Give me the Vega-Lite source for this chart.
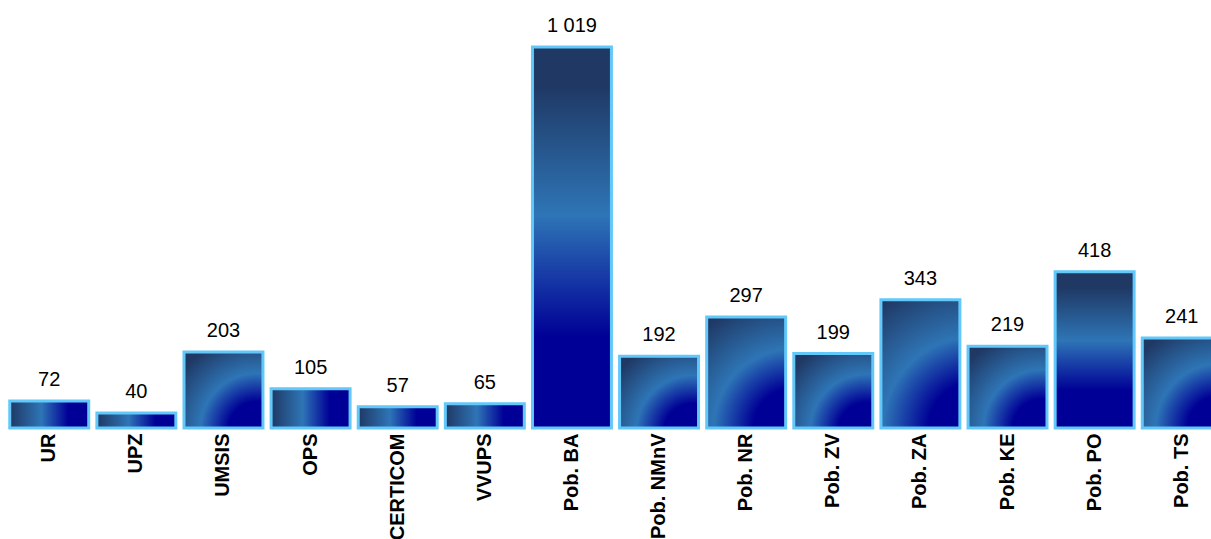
{
  "$schema": "https://vega.github.io/schema/vega-lite/v6.json",
  "width": 1231,
  "height": 428,
  "autosize": "none",
  "padding": {"left": 0, "top": 0, "right": 0, "bottom": 111},
  "background": "white",
  "config": {
    "view": {"stroke": null},
    "font": "Liberation Sans",
    "locale": {
      "number": {"decimal": ",", "thousands": " ", "grouping": [3], "currency": ["", " €"]}
    }
  },
  "data": {
    "values": [
      {"unit": "UR", "count": 72},
      {"unit": "UPZ", "count": 40},
      {"unit": "UMSIS", "count": 203},
      {"unit": "OPS", "count": 105},
      {"unit": "CERTICOM", "count": 57},
      {"unit": "VVUPS", "count": 65},
      {"unit": "Pob. BA", "count": 1019},
      {"unit": "Pob. NMnV", "count": 192},
      {"unit": "Pob. NR", "count": 297},
      {"unit": "Pob. ZV", "count": 199},
      {"unit": "Pob. ZA", "count": 343},
      {"unit": "Pob. KE", "count": 219},
      {"unit": "Pob. PO", "count": 418},
      {"unit": "Pob. TS", "count": 241}
    ]
  },
  "encoding": {
    "x": {
      "field": "unit",
      "type": "nominal",
      "sort": null,
      "scale": {"paddingInner": 0.0935, "paddingOuter": 0.112},
      "axis": {
        "title": null,
        "labelAngle": -90,
        "labelFont": "Liberation Sans",
        "labelFontWeight": "bold",
        "labelFontSize": 20,
        "labelColor": "#000000",
        "labelPadding": 5,
        "ticks": false,
        "domain": false,
        "grid": false
      }
    },
    "y": {
      "field": "count",
      "type": "quantitative",
      "scale": {"domain": [0, 1145], "nice": false},
      "axis": null
    }
  },
  "layer": [
    {
      "mark": {"type": "bar", "stroke": "#62c8fa", "strokeWidth": 3},
      "encoding": {
        "fill": {
          "condition": [
            {
              "test": "datum.count >= 400",
              "value": {
                "gradient": "linear", "x1": 0.5, "y1": 1, "x2": 0.5, "y2": 0,
                "stops": [
                  {"offset": 0, "color": "#000096"},
                  {"offset": 0.24, "color": "#000096"},
                  {"offset": 0.56, "color": "#2e75b6"},
                  {"offset": 0.9, "color": "#1f3864"},
                  {"offset": 1, "color": "#1f3864"}
                ]
              }
            },
            {
              "test": "datum.count <= 110",
              "value": {
                "gradient": "linear", "x1": 1, "y1": 0.5, "x2": 0, "y2": 0.5,
                "stops": [
                  {"offset": 0, "color": "#000096"},
                  {"offset": 0.26, "color": "#000096"},
                  {"offset": 0.6, "color": "#2e75b6"},
                  {"offset": 1, "color": "#1f3864"}
                ]
              }
            }
          ],
          "value": {
            "gradient": "radial", "x1": 0.92, "y1": 1, "r1": 0, "x2": 0.92, "y2": 1, "r2": 1.42,
            "stops": [
              {"offset": 0, "color": "#000096"},
              {"offset": 0.25, "color": "#000096"},
              {"offset": 0.5, "color": "#2e75b6"},
              {"offset": 0.85, "color": "#1f3864"},
              {"offset": 1, "color": "#1f3864"}
            ]
          }
        }
      }
    },
    {
      "mark": {"type": "text", "baseline": "alphabetic", "dy": -15, "fontSize": 20, "color": "#000000", "font": "Liberation Sans"},
      "encoding": {
        "text": {"field": "count", "type": "quantitative", "format": ",d"}
      }
    }
  ]
}
